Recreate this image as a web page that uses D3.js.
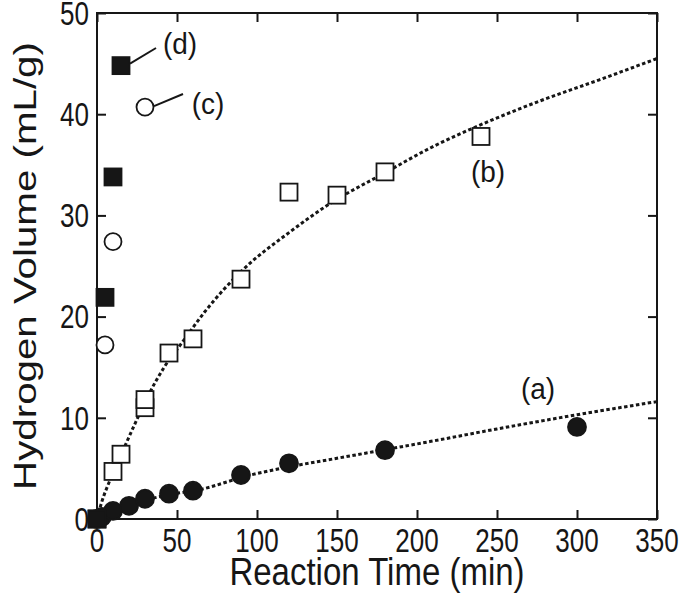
<!DOCTYPE html>
<html><head><meta charset="utf-8">
<script src="https://cdn.jsdelivr.net/npm/d3@7"></script>
<style>html,body{margin:0;padding:0;background:#fff;}</style>
</head><body>
<svg id="chart" width="685" height="600"></svg>
<script>
// ---- data ----
const seriesA_time = [0, 3, 10, 20, 30, 45, 60, 90, 120, 180, 300];
const seriesA_vol  = [0, 0.2, 0.8, 1.3, 2.0, 2.5, 2.8, 4.35, 5.5, 6.8, 9.1];
const seriesB_time = [0, 10, 15, 30, 30, 45, 60, 90, 120, 150, 180, 240];
const seriesB_vol  = [0, 4.7, 6.4, 11.0, 11.8, 16.4, 17.8, 23.7, 32.3, 32.0, 34.3, 37.8];
const seriesC_time = [5, 10, 30];
const seriesC_vol  = [17.2, 27.4, 40.7];
const seriesD_time = [0, 5, 10, 15];
const seriesD_vol  = [0, 21.9, 33.8, 44.8];
const fitA_time = [0, 5, 10, 20, 30, 45, 64, 96, 120, 150, 180, 208, 250, 300, 350];
const fitA_vol  = [0, 0.4, 0.8, 1.35, 1.85, 2.4, 2.9, 4.35, 5.15, 6.0, 6.85, 7.65, 8.9, 10.3, 11.6];
const fitB_time = [0, 3, 8, 18, 26, 32, 42, 53, 67, 91, 120, 144, 181, 210, 239, 275, 314, 350];
const fitB_vol  = [0, 1.7, 3.8, 7.4, 10.2, 12.2, 15.0, 17.4, 20.4, 24.6, 28.3, 31.0, 34.3, 36.8, 38.9, 41.2, 43.4, 45.5];
const xTicks = [0, 50, 100, 150, 200, 250, 300, 350];
const yTicks = [0, 10, 20, 30, 40, 50];
const seriesLabels = ["(a)", "(b)", "(c)", "(d)"];
const xTitle = "Reaction Time (min)";
const yTitle = "Hydrogen Volume (mL/g)";

const zip = (t, v) => t.map((d, i) => ({t: d, v: v[i]}));

const svg = d3.select("#chart");
const L = 97, R = 657, T = 13, B = 519;
const x = d3.scaleLinear().domain([0, 350]).range([L, R]);
const y = d3.scaleLinear().domain([0, 50]).range([B, T]);
const ink = "#161616";
const font = "'Liberation Sans', Arial, Helvetica, sans-serif";
const SY = 1.25; // vertical stretch of the reference's lettering

// fit lines
const line = d3.line().x(d => x(d.t)).y(d => y(d.v)).curve(d3.curveMonotoneX);
[zip(fitA_time, fitA_vol), zip(fitB_time, fitB_vol)].forEach(data => {
  svg.append("path").datum(data).attr("d", line)
    .attr("fill", "none").attr("stroke", ink).attr("stroke-width", 3)
    .attr("stroke-dasharray", "3.5,2.5");
});

// axes frame
svg.append("rect").attr("x", L).attr("y", T).attr("width", R - L).attr("height", B - T)
  .attr("fill", "none").attr("stroke", ink).attr("stroke-width", 2);

const tk = 9;
const gx = svg.append("g").attr("transform", `translate(0,${B})`)
  .call(d3.axisBottom(x).tickValues(xTicks).tickSize(-tk).tickFormat(""));
const gxt = svg.append("g").attr("transform", `translate(0,${T})`)
  .call(d3.axisTop(x).tickValues(xTicks).tickSize(-tk).tickFormat(""));
const gy = svg.append("g").attr("transform", `translate(${L},0)`)
  .call(d3.axisLeft(y).tickValues(yTicks).tickSize(-tk).tickFormat(""));
const gyr = svg.append("g").attr("transform", `translate(${R},0)`)
  .call(d3.axisRight(y).tickValues(yTicks).tickSize(-tk).tickFormat(""));
[gx, gxt, gy, gyr].forEach(g => {
  g.select(".domain").remove();
  g.selectAll(".tick line").attr("stroke", ink).attr("stroke-width", 2);
});

// tick labels (stretched vertically like the reference)
svg.append("g").selectAll("text").data(xTicks).join("text")
  .attr("transform", d => `translate(${x(d)},540) scale(1,${SY})`)
  .attr("text-anchor", "middle").attr("dy", "0.36em")
  .style("font-family", font).style("font-size", "26px").attr("fill", ink)
  .text(d3.format("d"));
svg.append("g").selectAll("text").data(yTicks).join("text")
  .attr("transform", d => `translate(89,${y(d)}) scale(1,${SY})`)
  .attr("text-anchor", "end").attr("dy", "0.36em")
  .style("font-family", font).style("font-size", "26px").attr("fill", ink)
  .text(d3.format("d"));

// markers
const sq = 17;
function squares(data, fill) {
  svg.append("g").selectAll("rect").data(data).join("rect")
    .attr("x", d => x(d.t) - sq / 2).attr("y", d => y(d.v) - sq / 2)
    .attr("width", sq).attr("height", sq)
    .attr("fill", fill).attr("stroke", ink).attr("stroke-width", 1.8);
}
function circles(data, fill, r) {
  svg.append("g").selectAll("circle").data(data).join("circle")
    .attr("cx", d => x(d.t)).attr("cy", d => y(d.v)).attr("r", r)
    .attr("fill", fill).attr("stroke", ink).attr("stroke-width", 1.8);
}
squares(zip(seriesB_time, seriesB_vol), "#fff");
circles(zip(seriesC_time, seriesC_vol), "#fff", 8.5);
circles(zip(seriesA_time, seriesA_vol), ink, 9);
squares(zip(seriesD_time, seriesD_vol), ink);

// leader lines for (c) and (d)
svg.append("line").attr("x1", x(seriesD_time[3]) + 9).attr("y1", y(seriesD_vol[3]) - 2)
  .attr("x2", 156).attr("y2", 48).attr("stroke", ink).attr("stroke-width", 2);
svg.append("line").attr("x1", x(seriesC_time[2]) + 9).attr("y1", y(seriesC_vol[2]) - 1)
  .attr("x2", 183).attr("y2", 94).attr("stroke", ink).attr("stroke-width", 2);

// series labels
const labelPos = [[538, 388], [488, 171], [208, 103], [180, 43]];
seriesLabels.forEach((s, i) => {
  svg.append("text")
    .attr("transform", `translate(${labelPos[i][0]},${labelPos[i][1]}) scale(1,1.08)`)
    .attr("text-anchor", "middle").attr("dy", "0.35em")
    .style("font-family", font).style("font-size", "28px").attr("fill", ink).text(s);
});

// axis titles
svg.append("text").attr("transform", `translate(${(L + R) / 2},571) scale(1,1.2)`)
  .attr("text-anchor", "middle").attr("dy", "0.35em")
  .style("font-family", font).style("font-size", "33px").attr("fill", ink).text(xTitle);
svg.append("text").attr("transform", `translate(25,${(T + B) / 2}) scale(1,1.3) rotate(-90)`)
  .attr("text-anchor", "middle").attr("dy", "0.35em")
  .style("font-family", font).style("font-size", "31px").attr("fill", ink).text(yTitle);
</script>
</body></html>
